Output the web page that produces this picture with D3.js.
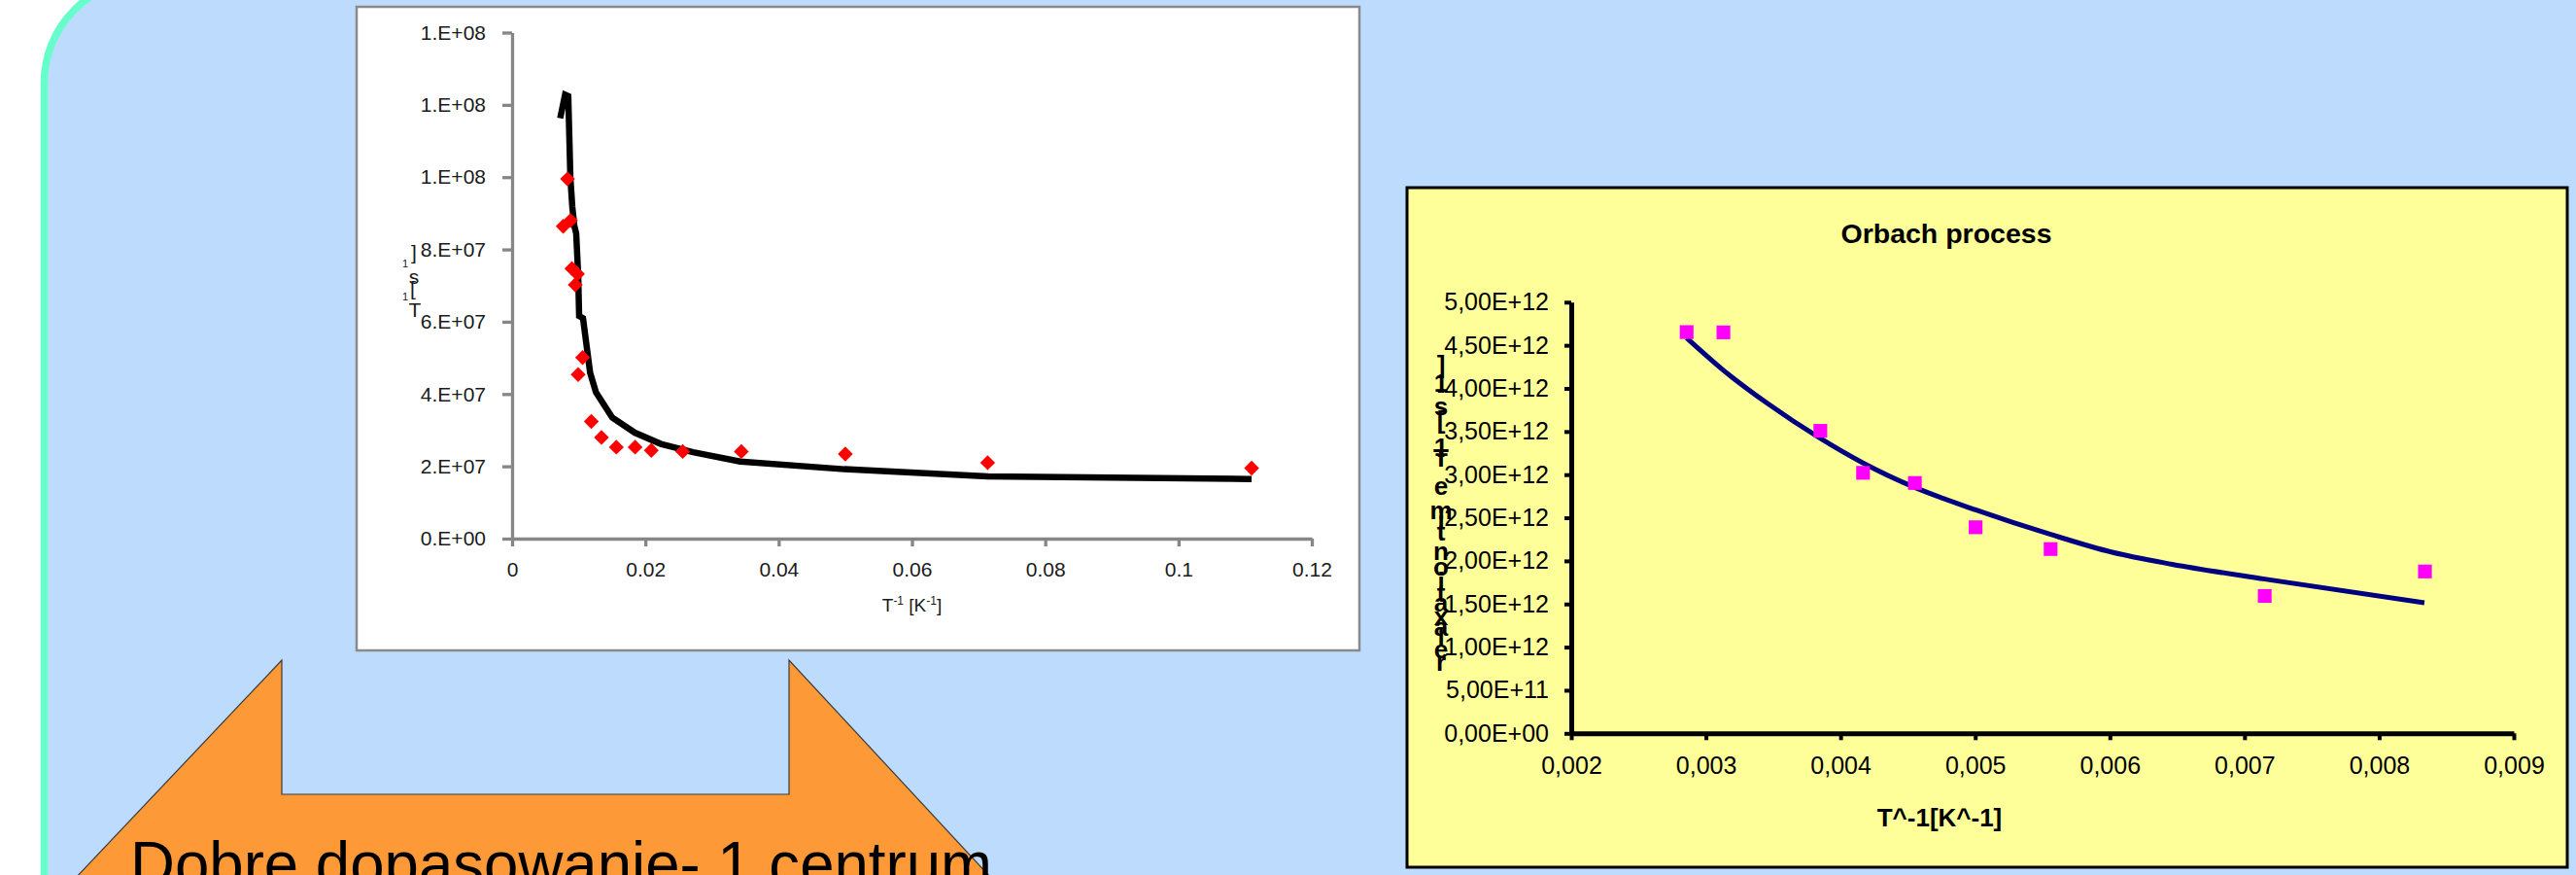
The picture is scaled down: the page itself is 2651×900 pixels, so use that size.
<!DOCTYPE html>
<html>
<head>
<meta charset="utf-8">
<script src="https://cdn.jsdelivr.net/npm/d3@7"></script>
<style>
  html, body { margin: 0; padding: 0; background: #ffffff; overflow: hidden; }
  svg { display: block; }
</style>
</head>
<body>
<svg id="c" width="2651" height="900"></svg>
<script>
// ---------------- DATA ----------------
// Left chart: measured relaxation rate (red diamonds)
const leftPointsX = [0.00767, 0.00832, 0.00877, 0.00898, 0.00948, 0.00981, 0.00991, 0.01058, 0.01189,
                     0.01341, 0.01564, 0.01846, 0.02089, 0.02560, 0.03440, 0.05000, 0.07136, 0.11097];
const leftPointsY = [8.64e7, 9.95e7, 8.80e7, 7.47e7, 7.02e7, 7.32e7, 4.54e7, 5.01e7, 3.24e7,
                     2.80e7, 2.53e7, 2.53e7, 2.44e7, 2.41e7, 2.41e7, 2.34e7, 2.10e7, 1.95e7];
// Left chart: fit curve (black line)
const leftFitX = [0.00722, 0.00795, 0.00843, 0.00875, 0.00904, 0.00933, 0.00962, 0.00992, 0.01006, 0.01064,
                  0.01171, 0.01258, 0.01502, 0.01842, 0.02231, 0.02717, 0.03424, 0.04985, 0.07133, 0.11097];
const leftFitY = [1.163e8, 1.228e8, 1.224e8, 9.97e7, 9.17e7, 8.66e7, 8.44e7, 7.28e7, 6.16e7, 6.10e7,
                  4.59e7, 4.05e7, 3.35e7, 2.93e7, 2.62e7, 2.39e7, 2.13e7, 1.92e7, 1.72e7, 1.65e7];
const leftXTicks = [0, 0.02, 0.04, 0.06, 0.08, 0.1, 0.12];
const leftYTicks = [0, 2e7, 4e7, 6e7, 8e7, 1e8, 1.2e8, 1.4e8];

// Right chart "Orbach process"
const rightPointsX = [0.002857, 0.003130, 0.003850, 0.004167, 0.004552, 0.005003, 0.005560, 0.007150, 0.008340];
const rightPointsY = [4.653e12, 4.650e12, 3.508e12, 3.021e12, 2.903e12, 2.390e12, 2.137e12, 1.593e12, 1.877e12];
const rightFitX = [0.002857, 0.003130, 0.003453, 0.003850, 0.004167, 0.004552, 0.005003, 0.005560, 0.006017, 0.006463, 0.007150, 0.008336];
const rightFitY = [4.585e12, 4.210e12, 3.830e12, 3.420e12, 3.135e12, 2.851e12, 2.592e12, 2.307e12, 2.100e12, 1.960e12, 1.789e12, 1.515e12];
const rightXTicks = [0.002, 0.003, 0.004, 0.005, 0.006, 0.007, 0.008, 0.009];
const rightYTicks = [0, 5e11, 1e12, 1.5e12, 2e12, 2.5e12, 3e12, 3.5e12, 4e12, 4.5e12, 5e12];

// Texts
const rightTitle = "Orbach process";
const rightXTitle = "T^-1[K^-1]";
const rightYTitle = "relaxation time T-1 [s-1]";
const caption = "Dobre dopasowanie- 1 centrum";

// ---------------- HELPERS ----------------
const FONT = "'Liberation Sans', Arial, Helvetica, sans-serif";
function pad2(n) { return (n < 10 ? "0" : "") + n; }
function fmtLeftY(v) {
  if (v === 0) return "0.E+00";
  const e = Math.floor(Math.log10(v));
  const m = Math.round(v / Math.pow(10, e));
  return m + ".E+" + pad2(e);
}
function fmtLeftX(v) { return String(+v.toFixed(2)); }
function fmtRightY(v) {
  if (v === 0) return "0,00E+00";
  const e = Math.floor(Math.log10(v) + 1e-9);
  const m = v / Math.pow(10, e);
  return m.toFixed(2).replace(".", ",") + "E+" + pad2(e);
}
function fmtRightX(v) { return v.toFixed(3).replace(".", ","); }

const svg = d3.select("#c");

// ---------------- BACKGROUND ----------------
svg.append("rect").attr("width", 2651).attr("height", 900).attr("fill", "#ffffff");
svg.append("rect")
  .attr("x", 45.5).attr("y", -21).attr("width", 2800).attr("height", 1100)
  .attr("rx", 106).attr("ry", 106)
  .attr("fill", "#BDDBFD").attr("stroke", "#66FFCC").attr("stroke-width", 7.5);

// Orange double up-arrow callout
svg.append("path")
  .attr("d", "M290,679 L290,817 L812,817 L812,679 L1110,1000 L-14,1000 Z")
  .attr("fill", "#FD9A37").attr("stroke", "#3a3a3a").attr("stroke-width", 1.2);
svg.append("text")
  .attr("x", 134).attr("y", 911)
  .attr("font-family", FONT).attr("font-size", 64)
  .attr("textLength", 887).attr("lengthAdjust", "spacingAndGlyphs")
  .attr("fill", "#000").text(caption);

// ---------------- LEFT CHART ----------------
const L = svg.append("g");
L.append("rect").attr("x", 367).attr("y", 7).attr("width", 1032).attr("height", 662)
  .attr("fill", "#ffffff").attr("stroke", "#8a8a8a").attr("stroke-width", 2.5);

const lx = d3.scaleLinear().domain([0, 0.12]).range([527, 1350]);
const ly = d3.scaleLinear().domain([0, 1.4e8]).range([554, 33.5]);

function styleAxis(g, color, width, fontSize, textColor, bold) {
  g.attr("font-family", FONT).attr("font-size", fontSize);
  g.selectAll("path").attr("stroke", color).attr("stroke-width", width);
  g.selectAll("line").attr("stroke", color).attr("stroke-width", width);
  g.selectAll("text").attr("fill", textColor).attr("font-weight", bold ? "bold" : "normal");
}

const lxAxis = L.append("g").attr("transform", "translate(0,554)")
  .call(d3.axisBottom(lx).tickValues(leftXTicks).tickFormat(fmtLeftX)
        .tickSize(8).tickSizeOuter(0).tickPadding(16));
styleAxis(lxAxis, "#868686", 3.3, 21, "#1a1a1a", false);

const lyAxis = L.append("g").attr("transform", "translate(527,0)")
  .call(d3.axisLeft(ly).tickValues(leftYTicks).tickFormat(fmtLeftY)
        .tickSize(10).tickSizeOuter(0).tickPadding(17));
styleAxis(lyAxis, "#868686", 3.3, 21, "#1a1a1a", false);

// fit line
L.append("path")
  .datum(d3.zip(leftFitX, leftFitY))
  .attr("d", d3.line().x(d => lx(d[0])).y(d => ly(d[1])))
  .attr("fill", "none").attr("stroke", "#000").attr("stroke-width", 6.5)
  .attr("stroke-linejoin", "miter").attr("stroke-miterlimit", 4);

// diamonds
L.selectAll("path.dia").data(d3.zip(leftPointsX, leftPointsY)).enter().append("path")
  .attr("class", "dia")
  .attr("d", d3.symbol(d3.symbolSquare, 118)())
  .attr("transform", d => `translate(${lx(d[0])},${ly(d[1])}) rotate(45)`)
  .attr("fill", "#FF0000");

// x title T^-1 [K^-1]
const lxt = L.append("text").attr("x", lx(0.06)).attr("y", 629)
  .attr("text-anchor", "middle").attr("font-family", FONT).attr("font-size", 19).attr("fill", "#1a1a1a");
lxt.append("tspan").text("T");
lxt.append("tspan").attr("font-size", 12).attr("dy", -7).text("-1");
lxt.append("tspan").attr("dy", 7).text(" [K");
lxt.append("tspan").attr("font-size", 12).attr("dy", -7).text("-1");
lxt.append("tspan").attr("dy", 7).text("]");

// y title (stacked glyphs, as rendered in the original)
const leftYGlyphs = [
  { ch: "]", x: 426, y: 259, s: 21 },
  { ch: "1", x: 417, y: 271, s: 11 },
  { ch: "s", x: 426, y: 284, s: 21 },
  { ch: "[", x: 425, y: 296, s: 21 },
  { ch: "1", x: 417, y: 305, s: 11 },
  { ch: "T", x: 427, y: 318, s: 21 }
];
L.selectAll("text.lyg").data(leftYGlyphs).enter().append("text")
  .attr("class", "lyg")
  .attr("x", d => d.x).attr("y", d => d.y)
  .attr("text-anchor", "middle").attr("dominant-baseline", "central")
  .attr("font-family", FONT).attr("font-size", d => d.s).attr("fill", "#1a1a1a")
  .text(d => d.ch);

// ---------------- RIGHT CHART ----------------
const R = svg.append("g");
R.append("rect").attr("x", 1448).attr("y", 193).attr("width", 1194).attr("height", 699)
  .attr("fill", "#FFFF99").attr("stroke", "#000").attr("stroke-width", 3);

const rx = d3.scaleLinear().domain([0.002, 0.009]).range([1617, 2587]);
const ry = d3.scaleLinear().domain([0, 5e12]).range([754.3, 310.8]);

const rxAxis = R.append("g").attr("transform", "translate(0,754.3)")
  .call(d3.axisBottom(rx).tickValues(rightXTicks).tickFormat(fmtRightX)
        .tickSize(7).tickSizeOuter(0).tickPadding(17));
styleAxis(rxAxis, "#000", 5, 25, "#000", false);

const ryAxis = R.append("g").attr("transform", "translate(1617,0)")
  .call(d3.axisLeft(ry).tickValues(rightYTicks).tickFormat(fmtRightY)
        .tickSize(7).tickSizeOuter(0).tickPadding(16));
styleAxis(ryAxis, "#000", 5, 25, "#000", false);
ryAxis.selectAll("line").attr("stroke-width", 4);
rxAxis.selectAll("line").attr("stroke-width", 4);

// fit curve
R.append("path")
  .datum(d3.zip(rightFitX, rightFitY))
  .attr("d", d3.line().x(d => rx(d[0])).y(d => ry(d[1])).curve(d3.curveMonotoneX))
  .attr("fill", "none").attr("stroke", "#000080").attr("stroke-width", 5);

// squares
R.selectAll("path.sq").data(d3.zip(rightPointsX, rightPointsY)).enter().append("path")
  .attr("class", "sq")
  .attr("d", d3.symbol(d3.symbolSquare, 200)())
  .attr("transform", d => `translate(${rx(d[0])},${ry(d[1])})`)
  .attr("fill", "#FF00FF");

// title
R.append("text").attr("x", 2003).attr("y", 250).attr("text-anchor", "middle")
  .attr("font-family", FONT).attr("font-size", 28.5).attr("font-weight", "bold").attr("fill", "#000")
  .text(rightTitle);
// x title
R.append("text").attr("x", 1996).attr("y", 850).attr("text-anchor", "middle")
  .attr("font-family", FONT).attr("font-size", 26).attr("font-weight", "bold").attr("fill", "#000")
  .text(rightXTitle);

// y title: glyphs stacked vertically (bottom to top reads the title)
const rightYCenters = [681, 668, 655, 645, 634, 620, 610, 598, 583, 567, 547, 535, 525, 500, 471, 466, 460, 432, 418, 400, 394, 375];
const glyphs = rightYTitle.replace(/ /g, "").split("");
R.selectAll("text.ryg").data(glyphs).enter().append("text")
  .attr("class", "ryg")
  .attr("x", 1483).attr("y", (d, i) => rightYCenters[i])
  .attr("text-anchor", "middle").attr("dominant-baseline", "central")
  .attr("font-family", FONT).attr("font-size", 26).attr("font-weight", "bold").attr("fill", "#000")
  .text(d => d);
</script>
</body>
</html>
